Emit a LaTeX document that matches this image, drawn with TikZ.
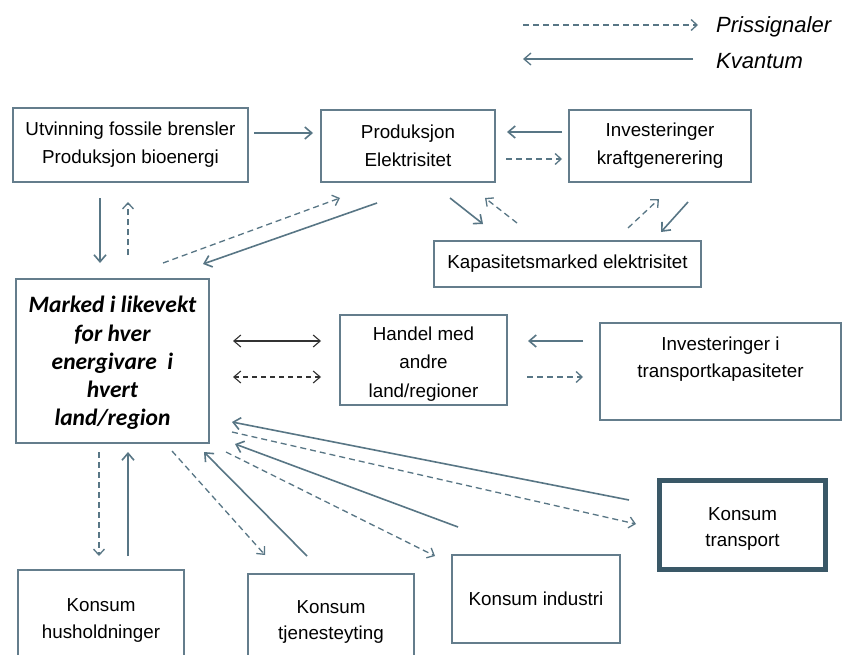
\documentclass[tikz,border=0pt]{standalone}
\usepackage{fontspec}
\setmainfont{Liberation Sans}
\newfontfamily\calfont{Carlito}
\usetikzlibrary{arrows.meta}
\definecolor{boxc}{RGB}{100,125,140}
\definecolor{arrc}{RGB}{88,118,133}
\definecolor{thickc}{RGB}{58,88,103}
\definecolor{darkc}{RGB}{50,50,50}
\begin{document}
\begin{tikzpicture}[x=1pt,y=-1pt,
  box/.style={draw=boxc,line width=1.4pt,inner sep=0pt,align=center,
    font=\fontsize{18.8}{28}\selectfont},
  txt/.style={inner sep=0pt,align=center,font=\fontsize{18.8}{27}\selectfont},
  qarr/.style={draw=arrc,line width=1.6pt,-{Straight Barb[length=7pt,width=12pt]}},
  parr/.style={draw=arrc,line width=1.3pt,dash pattern=on 6pt off 4pt,-{Straight Barb[length=6pt,width=11pt]}},
  dqarr/.style={draw=darkc,line width=1.1pt,{Straight Barb[length=7pt,width=12pt]}-{Straight Barb[length=7pt,width=12pt]}},
  dparr/.style={draw=darkc,line width=1.1pt,dash pattern=on 5pt off 4pt,{Straight Barb[length=7pt,width=12pt]}-{Straight Barb[length=7pt,width=12pt]}},
  lbl/.style={anchor=west,inner sep=0pt,font=\fontsize{22}{26}\selectfont\itshape}]
\useasboundingbox (0,0) rectangle (845,655);
\clip (0,0) rectangle (845,655);
\fill[white] (0,0) rectangle (845,655);

% legend
\coordinate (l1a) at (523,25); \coordinate (l1b) at (698,25);
\coordinate (l2a) at (693,59); \coordinate (l2b) at (523,59);
\draw[parr] (l1a) -- (l1b);
\draw[qarr,line width=1.3pt] (l2a) -- (l2b);
\node[lbl] (lp) at (716,27) {Prissignaler};
\node[lbl] (lk) at (716,61) {Kvantum};

% boxes
\node[box,minimum width=235pt,minimum height=74pt] (utv) at (130.5,145) {Utvinning fossile brensler\\Produksjon bioenergi};
\node[box,minimum width=174pt,minimum height=72pt] (prod) at (408,146) {Produksjon\\Elektrisitet};
\node[box,minimum width=182pt,minimum height=72pt] (invk) at (660,146) {Investeringer\\kraftgenerering};
\node[box,minimum width=267pt,minimum height=46pt] (kap) at (567.5,264) {Kapasitetsmarked elektrisitet};
\node[box,minimum width=193pt,minimum height=164pt,font=\calfont\bfseries\itshape\fontsize{23.5}{28.2}\selectfont] (mark) at (112.5,361) {};
\node[txt,font=\calfont\bfseries\itshape\fontsize{23.5}{28.2}\selectfont] (markt) at (112.5,363) {Marked i likevekt\\for hver\\energivare\ \ i\\hvert\\land/region};
\node[box,minimum width=167pt,minimum height=90pt] (han) at (423.5,360) {};
\node[txt,font=\fontsize{18.8}{28.5}\selectfont] (hant) at (423.5,364) {Handel med\\andre\\land/regioner};
\node[box,minimum width=241pt,minimum height=97pt] (invt) at (720.5,371.5) {};
\node[txt] (invtt) at (720.5,359) {Investeringer i\\transportkapasiteter};
\node[box,draw=thickc,line width=5pt,minimum width=166pt,minimum height=89pt] (ktr) at (742.5,525) {};
\node[txt,font=\fontsize{18.8}{26}\selectfont] (ktrt) at (742.5,529) {Konsum\\transport};
\node[box,minimum width=166pt,minimum height=90pt] (khus) at (101,615) {};
\node[txt,font=\fontsize{18.8}{27}\selectfont] (khust) at (101,620) {Konsum\\husholdninger};
\node[box,minimum width=166pt,minimum height=88pt] (ktj) at (331,618) {};
\node[txt,font=\fontsize{18.8}{26.5}\selectfont] (ktjt) at (331,622) {Konsum\\tjenesteyting};
\node[box,minimum width=168pt,minimum height=88pt] (kind) at (536,599) {Konsum industri};

% arrow end points
\coordinate (a1s) at (254,133); \coordinate (a1e) at (313,133);
\coordinate (a2s) at (562,132); \coordinate (a2e) at (507,132);
\coordinate (a3s) at (506,159); \coordinate (a3e) at (562,159);
\coordinate (a4s) at (450,198); \coordinate (a4e) at (483,224);
\coordinate (a5s) at (517,223); \coordinate (a5e) at (485,198);
\coordinate (a6s) at (628,228); \coordinate (a6e) at (659,199);
\coordinate (a7s) at (688,202); \coordinate (a7e) at (661,232);
\coordinate (a8s) at (100,198); \coordinate (a8e) at (100,263);
\coordinate (a9s) at (128,255); \coordinate (a9e) at (128,202);
\coordinate (a10s) at (163,263); \coordinate (a10e) at (340,198);
\coordinate (a11s) at (377,203); \coordinate (a11e) at (203,264);
\coordinate (a12s) at (233,341); \coordinate (a12e) at (321,341);
\coordinate (a13s) at (233,377); \coordinate (a13e) at (321,377);
\coordinate (a14s) at (583,341); \coordinate (a14e) at (528,341);
\coordinate (a15s) at (527,377); \coordinate (a15e) at (583,377);
\coordinate (a16s) at (99,452); \coordinate (a16e) at (99,556);
\coordinate (a17s) at (128,556); \coordinate (a17e) at (128,452);
\coordinate (a18s) at (172,451); \coordinate (a18e) at (265,555);
\coordinate (a19s) at (307,556); \coordinate (a19e) at (204,452);
\coordinate (a20s) at (226,452); \coordinate (a20e) at (435,556);
\coordinate (a21s) at (458,527); \coordinate (a21e) at (235,444);
\coordinate (a22s) at (232,432); \coordinate (a22e) at (636,524);
\coordinate (a23s) at (629,500); \coordinate (a23e) at (232,422);

\draw[qarr] (a1s) -- (a1e);
\draw[qarr] (a2s) -- (a2e);
\draw[parr] (a3s) -- (a3e);
\draw[qarr] (a4s) -- (a4e);
\draw[parr] (a5s) -- (a5e);
\draw[parr] (a6s) -- (a6e);
\draw[qarr] (a7s) -- (a7e);
\draw[qarr] (a8s) -- (a8e);
\draw[parr] (a9s) -- (a9e);
\draw[parr] (a10s) -- (a10e);
\draw[qarr] (a11s) -- (a11e);
\draw[dqarr] (a12s) -- (a12e);
\draw[dparr] (a13s) -- (a13e);
\draw[qarr] (a14s) -- (a14e);
\draw[parr] (a15s) -- (a15e);
\draw[parr] (a16s) -- (a16e);
\draw[qarr] (a17s) -- (a17e);
\draw[parr] (a18s) -- (a18e);
\draw[qarr] (a19s) -- (a19e);
\draw[parr] (a20s) -- (a20e);
\draw[qarr] (a21s) -- (a21e);
\draw[parr] (a22s) -- (a22e);
\draw[qarr] (a23s) -- (a23e);
\end{tikzpicture}
\end{document}
